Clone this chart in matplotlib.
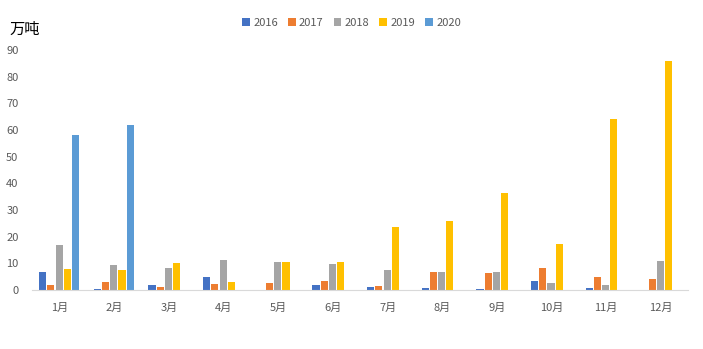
import numpy as np
import matplotlib
matplotlib.use("Agg")
from matplotlib import pyplot as plt

plt.rcParams['font.family'] = ['Noto Sans CJK SC', 'DejaVu Sans']

# Données
mois = ["1月", "2月", "3月", "4月", "5月", "6月", "7月", "8月", "9月", "10月", "11月", "12月"]
annees = ["2016", "2017", "2018", "2019", "2020"]
v2016 = [6.8, 0.4, 1.9, 4.9, 0, 1.9, 1.1, 0.7, 0.4, 3.4, 0.7, 0]
v2017 = [1.9, 3.0, 1.1, 2.3, 2.6, 3.4, 1.5, 6.8, 6.4, 8.2, 4.9, 4.1]
v2018 = [16.9, 9.4, 8.2, 11.2, 10.5, 9.7, 7.5, 6.8, 6.8, 2.6, 1.9, 10.9]
v2019 = [7.9, 7.5, 10.1, 3.0, 10.5, 10.5, 23.7, 25.9, 36.4, 17.2, 64.1, 85.9]
v2020 = [58.0, 62.0, 0, 0, 0, 0, 0, 0, 0, 0, 0, 0]
couleurs = ["#4472C4", "#ED7D31", "#A5A5A5", "#FFC000", "#5B9BD5"]

series = [v2016, v2017, v2018, v2019, v2020]

fig = plt.figure(figsize=(7.03, 3.49), dpi=100)
ax = fig.add_axes([0.046, 0.169, 0.933, 0.688])

x = np.arange(len(mois))
pas = 0.15
largeur = 0.13
for i, (vals, c, lab) in enumerate(zip(series, couleurs, annees)):
    ax.bar(x + (i - 2) * pas - 0.01, vals, width=largeur, color=c, label=lab)

ax.set_xlim(-0.5, 11.5)
ax.set_ylim(0, 90)
ax.set_yticks(range(0, 100, 10))
ax.set_xticks(x)
ax.set_xticklabels(mois)
ax.tick_params(axis='both', length=0, colors="#595959", labelsize=8)
ax.tick_params(axis='x', pad=9)
ax.tick_params(axis='y', pad=10)
for s in ["top", "right", "left"]:
    ax.spines[s].set_visible(False)
ax.spines["bottom"].set_color("#D9D9D9")

fig.text(0.014, 0.915, "万吨", fontsize=11, color="black", va="center")

fig.legend(loc="center", bbox_to_anchor=(0.5, 0.935), ncol=5, frameon=False,
           fontsize=8, handlelength=0.7, handleheight=0.7, handletextpad=0.3,
           columnspacing=0.9, labelcolor="#595959")

fig.savefig("out.png", dpi=100)
